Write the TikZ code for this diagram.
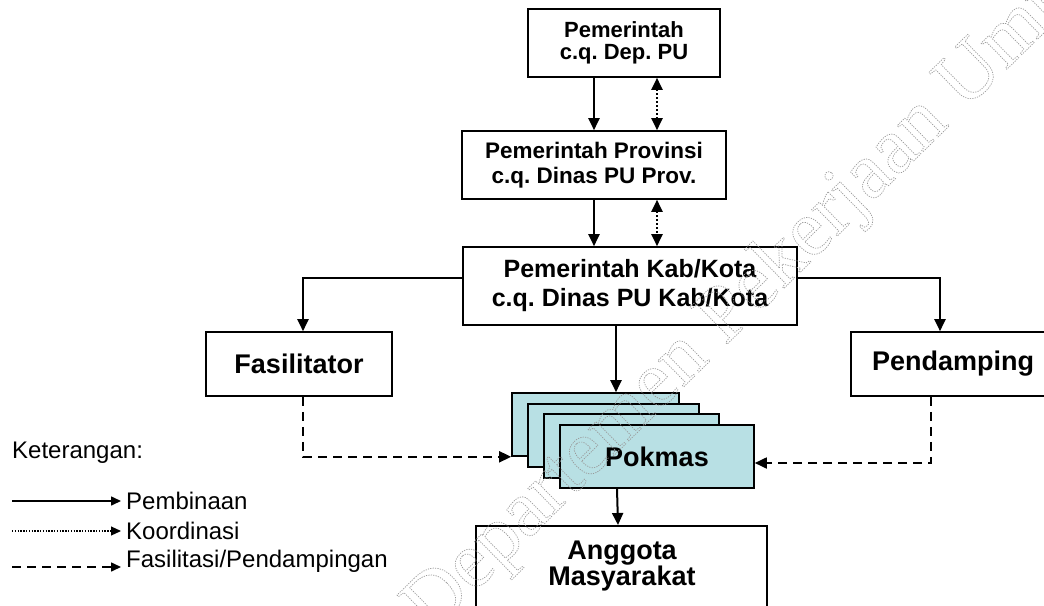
\documentclass[tikz,border=0pt]{standalone}
\usepackage{fontspec}
\setmainfont{Liberation Sans}
\newfontfamily\wmfont{Liberation Serif}
\usetikzlibrary{arrows.meta}
\definecolor{pok}{RGB}{184,224,228}
\begin{document}
\frenchspacing
\begin{tikzpicture}[x=1pt,y=-1pt,
  box/.style={draw,line width=1.6pt,fill=white,inner sep=0pt,align=center,font=\bfseries},
  pbox/.style={box,fill=pok},
  arr/.style={line width=2pt,-{Triangle[length=12pt,width=11pt]}},
  dotarr/.style={line width=2pt,dash pattern=on 2pt off 2pt,{Triangle[length=12pt,width=11pt]}-{Triangle[length=12pt,width=11pt]}},
  dasharr/.style={line width=1.8pt,dash pattern=on 9pt off 6pt,-{Triangle[length=12pt,width=11pt]}},
  legtext/.style={anchor=west,inner sep=0pt,font=\fontsize{24}{26}\selectfont},
  f22/.style={font=\bfseries\fontsize{22}{22}\selectfont},
  f225/.style={font=\bfseries\fontsize{22.5}{25}\selectfont},
  f25/.style={font=\bfseries\fontsize{25}{29}\selectfont},
  f27/.style={font=\bfseries\fontsize{27}{27}\selectfont}
]
\useasboundingbox (0,0) rectangle (1044,605);

% main boxes
\node[box,f22,minimum width=192,minimum height=68] (top) at (624,43) {Pemerintah\\c.q. Dep. PU};
\node[box,f225,minimum width=264,minimum height=68] (prov) at (594,165) {Pemerintah Provinsi\\c.q. Dinas PU Prov.};
\node[box,f25,minimum width=334,minimum height=78] (kab) at (630,286) {Pemerintah Kab/Kota\\c.q. Dinas PU Kab/Kota};
\node[box,f27,minimum width=186,minimum height=64] (fas) at (299,364) {Fasilitator};
\node[box,f27,minimum width=204,minimum height=64] (pend) at (953,364) {Pendamping};

% stacked Pokmas boxes
\node[pbox,minimum width=167,minimum height=63] (b1) at (595.5,424.5) {};
\node[pbox,minimum width=171,minimum height=63] (b2) at (613.5,435.5) {};
\node[pbox,minimum width=175,minimum height=64] (b3) at (631.5,446) {};
\node[pbox,f27,minimum width=194,minimum height=63] (b4) at (657,456.5) {Pokmas};

% Anggota box (runs past the lower edge)
\node[box,minimum width=291,minimum height=110,anchor=north] (ang) at (621.5,525) {};
\node[align=center,font=\bfseries\fontsize{27}{26}\selectfont] (angt) at (622,566) {Anggota\\Masyarakat};

% connectors top -> prov
\coordinate (s1) at ([xshift=-30]top.south);
\coordinate (d1) at ([xshift=33]top.south);
\draw[arr] (s1) -- (s1 |- prov.north);
\draw[dotarr] (d1) -- (d1 |- prov.north);
% prov -> kab
\coordinate (s2) at (prov.south);
\coordinate (d2) at ([xshift=63]prov.south);
\draw[arr] (s2) -- (s2 |- kab.north);
\draw[dotarr] (d2) -- (d2 |- kab.north);
% kab -> fasilitator / pendamping
\coordinate (kl) at ([yshift=8]kab.west);
\coordinate (kr) at ([yshift=8]kab.east);
\draw[arr] (kl) -| ([xshift=4]fas.north);
\draw[arr] (kr) -| ([xshift=-13]pend.north);
% kab -> pokmas
\coordinate (kb) at ([xshift=-14]kab.south);
\draw[arr] (kb) -- (kb |- b1.north);
% fasilitator / pendamping -> pokmas
\draw[dasharr] ([xshift=4]fas.south) |- (b1.south west);
\draw[dasharr] ([xshift=-22]pend.south) |- ([yshift=-6.5]b4.east);
% pokmas -> anggota
\coordinate (pb) at ([xshift=-40]b4.south);
\draw[arr] (pb) -- ([xshift=1]pb |- ang.north);

% legend
\node[legtext] (ket) at (12,453) {Keterangan:};
\node[legtext] (l1t) at (126,501) {Pembinaan};
\node[legtext] (l2t) at (126,531) {Koordinasi};
\node[legtext] (l3t) at (126,561) {Fasilitasi/Pendampingan};
\coordinate (l1a) at (12,501);
\coordinate (l2a) at (12,531);
\coordinate (l3a) at (12,567);
\draw[line width=1.6pt,-{Triangle[length=10pt,width=9pt]},shorten >=5pt] (l1a) -- (l1a -| l1t.west);
\draw[line width=1.1pt,dash pattern=on 1.4pt off 1.4pt,-{Triangle[length=10pt,width=9pt]},shorten >=5pt] (l2a) -- (l2a -| l2t.west);
\draw[line width=1.6pt,dash pattern=on 9pt off 6pt,-{Triangle[length=10pt,width=9pt]},shorten >=5pt] (l3a) -- (l3a -| l3t.west);

% watermark (outlined, dotted)
\node[rotate=44.5,text=black!40,font=\wmfont\fontsize{80}{80}\selectfont] (wm) at (764,281)
  {\special{pdf:literal direct 1 Tr 0.7 w [1.2 1.2] 0 d}Departemen Pekerjaan Umum\special{pdf:literal direct 0 Tr [] 0 d}};
\end{tikzpicture}
\end{document}
